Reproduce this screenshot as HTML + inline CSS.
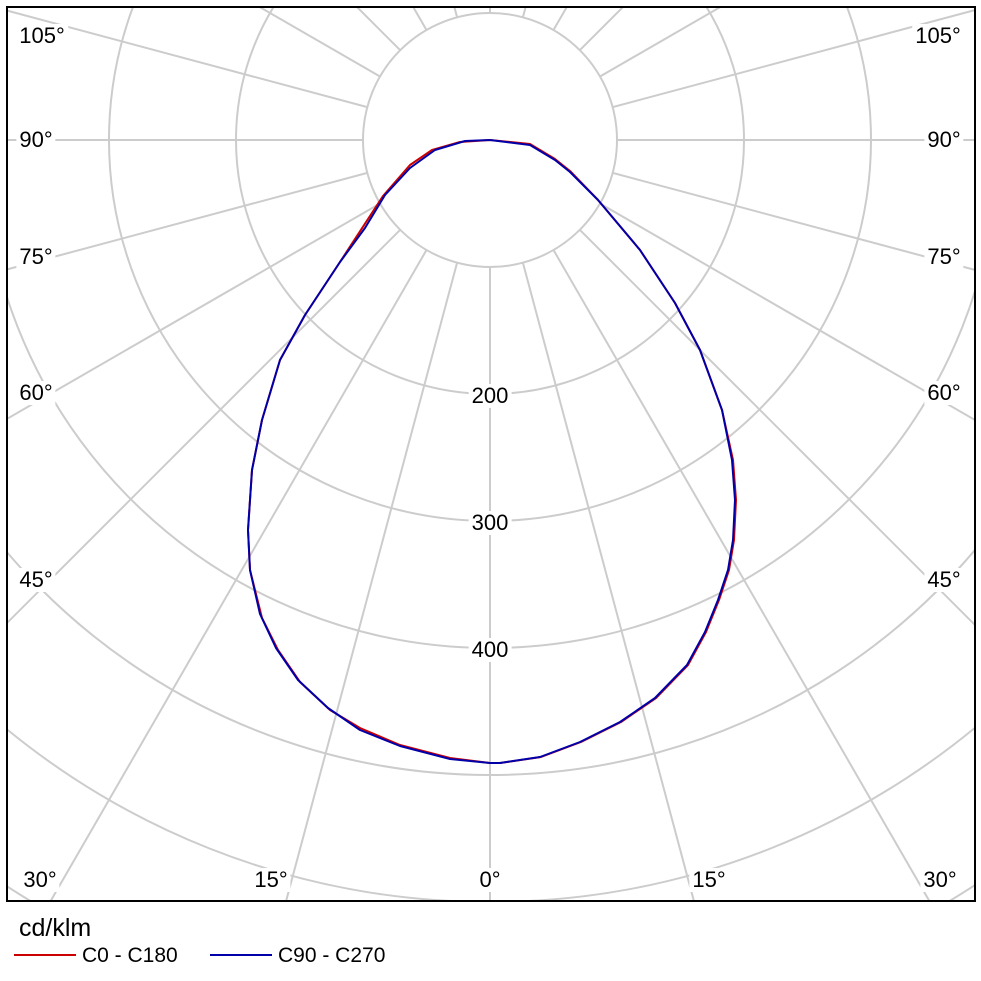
<!DOCTYPE html>
<html style="margin:0;width:981px;height:981px;overflow:hidden"><head><meta charset="utf-8"><style>
body{margin:0;background:#fff;width:981px;height:981px;overflow:hidden;position:relative;font-family:"Liberation Sans",sans-serif;}
.l{position:absolute;font-size:22px;line-height:24px;background:#fff;padding:0 3px;transform:translate(-50%,-50%);color:#000;white-space:nowrap}
</style></head><body>
<svg width="981" height="981" style="position:absolute;left:0;top:0;display:block">
<defs><clipPath id="c"><rect x="7" y="7" width="968" height="894"/></clipPath></defs>
<g clip-path="url(#c)">
<g transform="translate(490,140)" stroke="#cccccc" stroke-width="2" fill="none">
<circle r="127"/><circle r="254"/><circle r="381"/><circle r="508"/><circle r="635"/><circle r="762"/><circle r="889"/><circle r="1016"/>
<g>
<line x1="0" y1="127" x2="0" y2="1400"/>
<line x1="0" y1="127" x2="0" y2="1400" transform="rotate(15)"/>
<line x1="0" y1="127" x2="0" y2="1400" transform="rotate(30)"/>
<line x1="0" y1="127" x2="0" y2="1400" transform="rotate(45)"/>
<line x1="0" y1="127" x2="0" y2="1400" transform="rotate(60)"/>
<line x1="0" y1="127" x2="0" y2="1400" transform="rotate(75)"/>
<line x1="0" y1="127" x2="0" y2="1400" transform="rotate(90)"/>
<line x1="0" y1="127" x2="0" y2="1400" transform="rotate(105)"/>
<line x1="0" y1="127" x2="0" y2="1400" transform="rotate(120)"/>
<line x1="0" y1="127" x2="0" y2="1400" transform="rotate(135)"/>
<line x1="0" y1="127" x2="0" y2="1400" transform="rotate(150)"/>
<line x1="0" y1="127" x2="0" y2="1400" transform="rotate(165)"/>
<line x1="0" y1="127" x2="0" y2="1400" transform="rotate(180)"/>
</g>
<g transform="scale(-1,1)">
<line x1="0" y1="127" x2="0" y2="1400" transform="rotate(15)"/>
<line x1="0" y1="127" x2="0" y2="1400" transform="rotate(30)"/>
<line x1="0" y1="127" x2="0" y2="1400" transform="rotate(45)"/>
<line x1="0" y1="127" x2="0" y2="1400" transform="rotate(60)"/>
<line x1="0" y1="127" x2="0" y2="1400" transform="rotate(75)"/>
<line x1="0" y1="127" x2="0" y2="1400" transform="rotate(90)"/>
<line x1="0" y1="127" x2="0" y2="1400" transform="rotate(105)"/>
<line x1="0" y1="127" x2="0" y2="1400" transform="rotate(120)"/>
<line x1="0" y1="127" x2="0" y2="1400" transform="rotate(135)"/>
<line x1="0" y1="127" x2="0" y2="1400" transform="rotate(150)"/>
<line x1="0" y1="127" x2="0" y2="1400" transform="rotate(165)"/>
</g>
</g>
<g fill="none" stroke-width="2" stroke-linejoin="round">
<polyline stroke="#cc0000" points="490,140 530,144 555,159 570,171 598,200 640,250 675,303 700,350 722,410 733,460 736,500 734,540 729,570 719,600 706,632 688,665 656,698 621,722 581,742 541,757 500,763 490,763 450,758 400,745 360,728 330,710 300,682 278,650 262,618 250,570 248,530 252,470 262,420 280,360 305,315 340,262 383,196 410,165 432,150 460,142 490,140"/>
<polyline stroke="#0000aa" points="490,140 530,145 555,160 570,172 598,200 640,250 675,303 700,350 722,410 732,460 735,500 733,540 728,570 718,600 705,632 687,665 655,698 620,722 580,742 540,757 500,763 490,763 450,759 400,746 360,730 328,708 298,680 276,648 260,614 250,570 248,530 252,470 262,420 280,360 305,315 340,262 365,228 385,195 410,168 435,150 465,141 490,140"/>
</g>
</g>
<rect x="7" y="7" width="968" height="894" fill="none" stroke="#000" stroke-width="2"/>
<line x1="14" y1="955" x2="76" y2="955" stroke="#cc0000" stroke-width="2"/>
<line x1="210" y1="955" x2="272" y2="955" stroke="#0000aa" stroke-width="2"/>
</svg>
<div class="l" style="left:42px;top:36px">105°</div>
<div class="l" style="left:36px;top:140px">90°</div>
<div class="l" style="left:36px;top:257px">75°</div>
<div class="l" style="left:36px;top:393px">60°</div>
<div class="l" style="left:36px;top:580px">45°</div>
<div class="l" style="left:40px;top:880px">30°</div>
<div class="l" style="left:271px;top:880px">15°</div>
<div class="l" style="left:490px;top:880px">0°</div>
<div class="l" style="left:938px;top:36px">105°</div>
<div class="l" style="left:944px;top:140px">90°</div>
<div class="l" style="left:944px;top:257px">75°</div>
<div class="l" style="left:944px;top:393px">60°</div>
<div class="l" style="left:944px;top:580px">45°</div>
<div class="l" style="left:940px;top:880px">30°</div>
<div class="l" style="left:709px;top:880px">15°</div>
<div class="l" style="left:490px;top:396px">200</div>
<div class="l" style="left:490px;top:523px">300</div>
<div class="l" style="left:490px;top:650px">400</div>
<div style="position:absolute;left:19px;top:914px;font-size:25px;line-height:28px">cd/klm</div>
<div style="position:absolute;left:82px;top:945px;font-size:21px;line-height:22px">C0 - C180</div>
<div style="position:absolute;left:278px;top:945px;font-size:21px;line-height:22px">C90 - C270</div>
</body></html>
